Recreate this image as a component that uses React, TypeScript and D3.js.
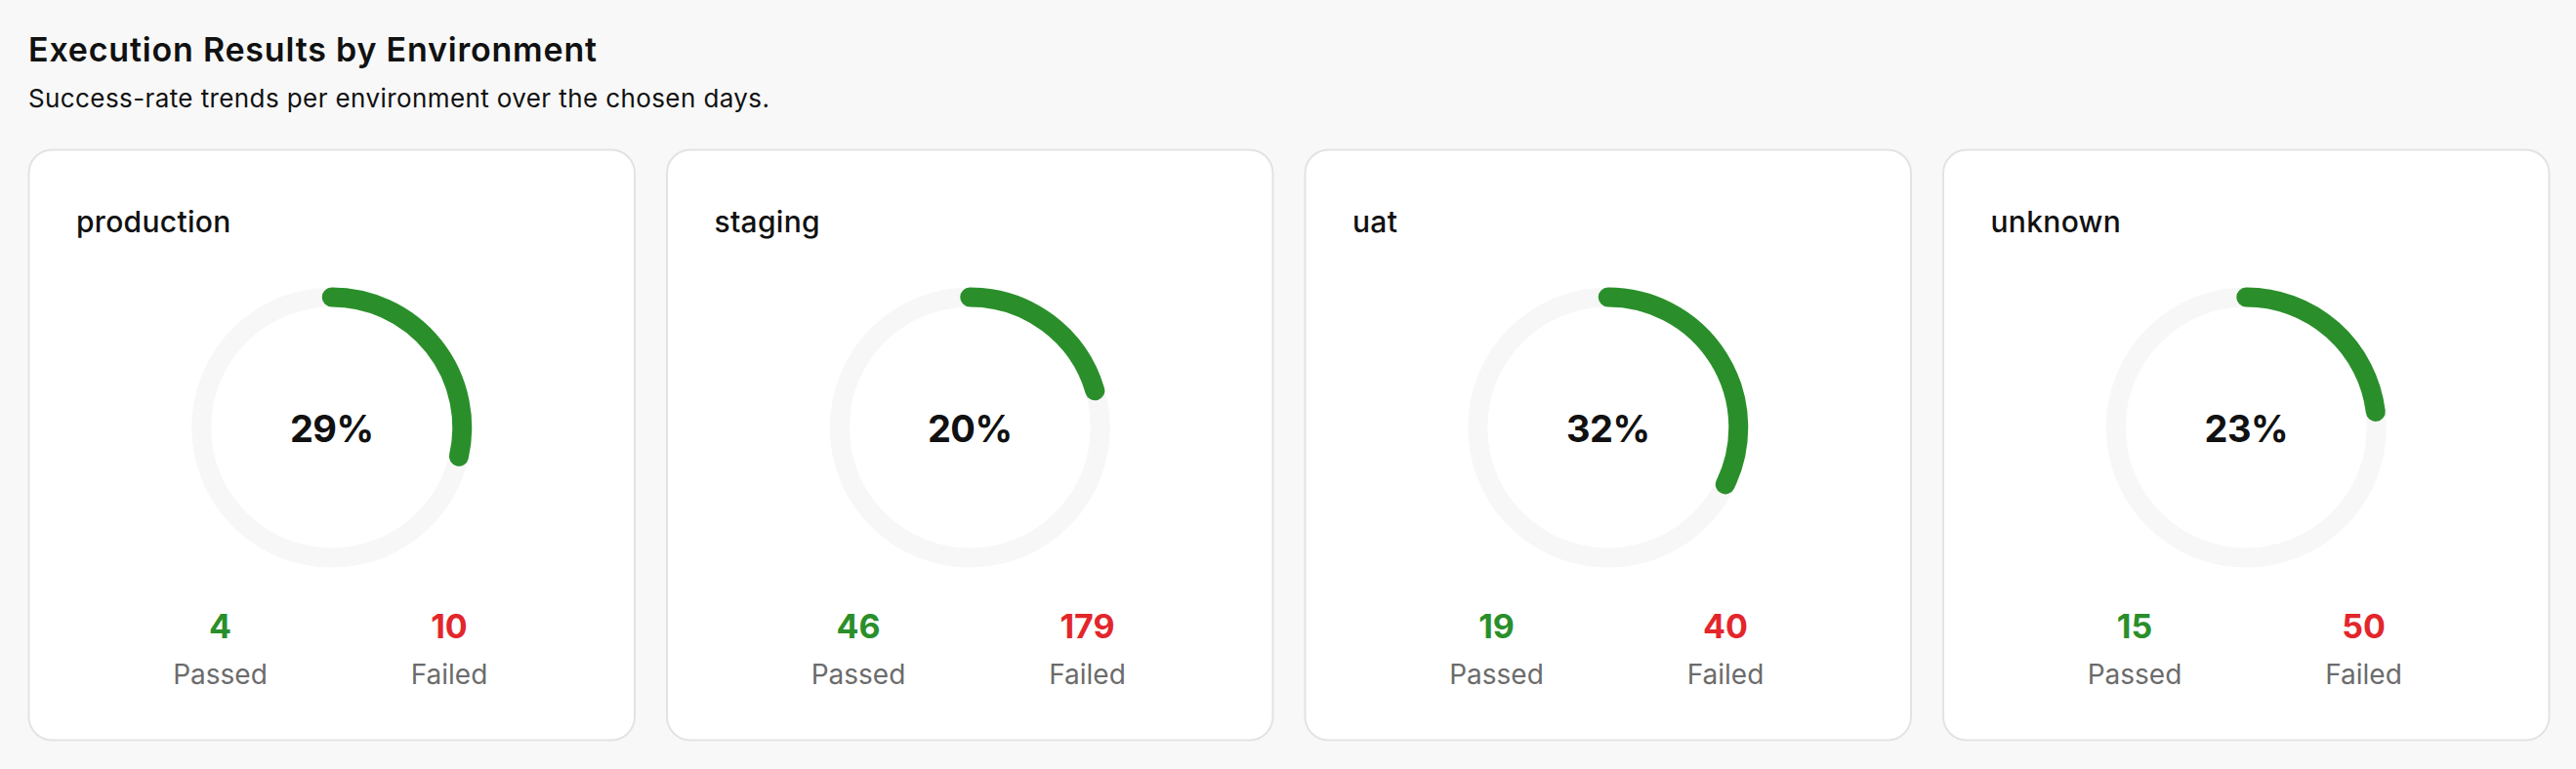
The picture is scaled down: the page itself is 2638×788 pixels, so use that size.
import { useEffect, useRef } from 'react';
import * as d3 from 'd3';

const environments = ['production', 'staging', 'uat', 'unknown'];
const passedCounts = [4, 46, 19, 15];
const failedCounts = [10, 179, 40, 50];

const title = 'Execution Results by Environment';
const subtitle = 'Success-rate trends per environment over the chosen days.';

const WIDTH = 2638;
const HEIGHT = 788;

export default function App() {
  const ref = useRef<SVGSVGElement>(null);

  useEffect(() => {
    if (!ref.current) return;
    const svg = d3.select(ref.current);
    svg.selectAll('*').remove();

    const font = 'Inter, "Noto Sans", sans-serif';

    svg.append('rect')
      .attr('width', WIDTH)
      .attr('height', HEIGHT)
      .attr('fill', '#f8f8f8');

    svg.append('text')
      .attr('x', 29)
      .attr('y', 63)
      .style('font-family', font)
      .style('font-size', '34px')
      .style('font-weight', 600)
      .style('letter-spacing', '0.8px')
      .style('fill', '#111')
      .text(title);

    svg.append('text')
      .attr('x', 29)
      .attr('y', 110)
      .style('font-family', font)
      .style('font-size', '26px')
      .style('letter-spacing', '0.4px')
      .style('fill', '#111')
      .text(subtitle);

    const cardTop = 153;
    const cardHeight = 606;

    const x = d3.scaleBand<string>()
      .domain(environments)
      .range([29, 2611])
      .paddingInner(0.049);

    const pct = d3.scaleLinear().domain([0, 1]).range([0, 2 * Math.PI]);

    const ringR = 133.5;
    const ringW = 20;

    const cards = svg.selectAll('g.card')
      .data(environments.map((env, i) => ({
        env,
        passed: passedCounts[i],
        failed: failedCounts[i],
        rate: passedCounts[i] / (passedCounts[i] + failedCounts[i]),
      })))
      .join('g')
      .attr('class', 'card')
      .attr('transform', d => `translate(${x(d.env)},${cardTop})`);

    const bw = x.bandwidth();

    cards.append('rect')
      .attr('x', 0.5)
      .attr('y', 0.5)
      .attr('width', bw - 1)
      .attr('height', cardHeight - 1)
      .attr('rx', 24)
      .attr('fill', '#fff')
      .attr('stroke', '#e3e3e3')
      .attr('stroke-width', 2);

    cards.append('text')
      .attr('x', 49)
      .attr('y', 85)
      .style('font-family', font)
      .style('font-size', '30px')
      .style('font-weight', 500)
      .style('letter-spacing', '0.3px')
      .style('fill', '#111')
      .text(d => d.env);

    const donut = cards.append('g')
      .attr('transform', `translate(${bw / 2},285)`);

    donut.append('circle')
      .attr('r', ringR)
      .attr('fill', 'none')
      .attr('stroke', '#f7f7f7')
      .attr('stroke-width', ringW);

    donut.append('path')
      .attr('d', d => {
        const p = d3.path();
        p.arc(0, 0, ringR, -Math.PI / 2, -Math.PI / 2 + pct(d.rate));
        return p.toString();
      })
      .attr('fill', 'none')
      .attr('stroke', '#2a8f2a')
      .attr('stroke-width', ringW)
      .attr('stroke-linecap', 'round');

    donut.append('text')
      .attr('y', 15)
      .attr('text-anchor', 'middle')
      .style('font-family', font)
      .style('font-size', '38px')
      .style('font-weight', 700)
      .style('letter-spacing', '-0.5px')
      .style('fill', '#111')
      .text(d => `${Math.round(d.rate * 100)}%`);

    const stats = [
      { key: 'passed', label: 'Passed', color: '#2a8f2a', cx: 196.5 },
      { key: 'failed', label: 'Failed', color: '#e3262b', cx: 431 },
    ];

    stats.forEach(s => {
      cards.append('text')
        .attr('x', s.cx)
        .attr('y', 501)
        .attr('text-anchor', 'middle')
        .style('font-family', font)
        .style('font-size', '34px')
        .style('font-weight', 700)
        .style('fill', s.color)
        .text((d: any) => d[s.key]);

      cards.append('text')
        .attr('x', s.cx)
        .attr('y', 548)
        .attr('text-anchor', 'middle')
        .style('font-family', font)
        .style('font-size', '28px')
        .style('fill', '#6b6b6b')
        .text(s.label);
    });
  }, []);

  return (
    <svg
      ref={ref}
      width={WIDTH}
      height={HEIGHT}
      style={{ position: 'absolute', left: 0, top: 0, display: 'block' }}
    />
  );
}
